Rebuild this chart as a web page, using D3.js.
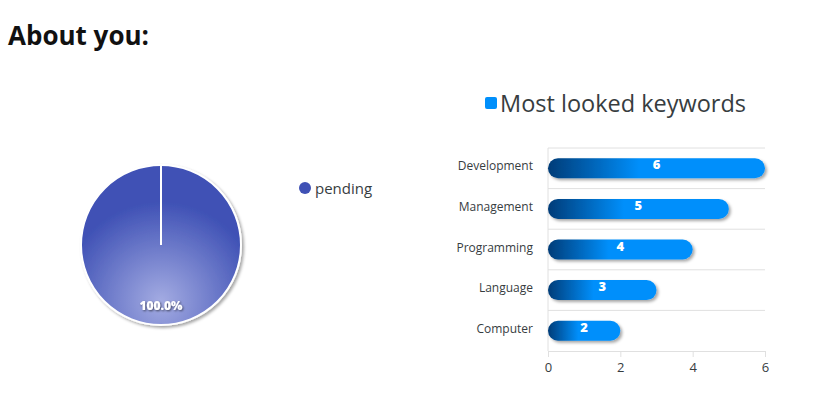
<!DOCTYPE html>
<html><head><meta charset="utf-8">
<script src="https://cdn.jsdelivr.net/npm/d3@7"></script>
<style>body{margin:0;background:#fff;} svg{display:block;}</style>
</head><body>
<svg id="c" width="836" height="402"></svg>
<script>
const pieLabels = ["pending"];
const pieValues = [1];
const categories = ["Development","Management","Programming","Language","Computer"];
const values = [6,5,4,3,2];
const xTicks = [0,2,4,6];
const seriesName = "Most looked keywords";
const titleText = "About you:";

const svg = d3.select("#c");
const font = "'Open Sans', sans-serif";
const defs = svg.append("defs");

// filters
const sh = defs.append("filter").attr("id","sh").attr("x","-20%").attr("y","-40%").attr("width","150%").attr("height","200%");
sh.append("feDropShadow").attr("dx",2).attr("dy",2).attr("stdDeviation",1.5).attr("flood-color","#000").attr("flood-opacity",0.35);
const tsh = defs.append("filter").attr("id","tsh").attr("x","-20%").attr("y","-40%").attr("width","150%").attr("height","200%");
tsh.append("feDropShadow").attr("dx",1).attr("dy",1).attr("stdDeviation",1).attr("flood-color","#000").attr("flood-opacity",0.6);

// title
svg.append("text").attr("x",8).attr("y",45).text(titleText)
  .attr("font-family","'Open Sans', sans-serif").attr("font-weight",700).attr("font-size",26).attr("fill","#111");

// ---- Pie ----
const pieColor = d3.scaleOrdinal().domain(pieLabels).range(["#3F51B5"]);
const rg = defs.append("radialGradient").attr("id","pg").attr("cx","0.5").attr("cy","0.85").attr("r","0.62").attr("fx","0.5").attr("fy","0.85");
rg.append("stop").attr("offset","0%").attr("stop-color","#a3abe2");
rg.append("stop").attr("offset","100%").attr("stop-color","#3F51B5");

const cx = 161, cy = 245, R = 80;
const pieG = svg.append("g").attr("transform",`translate(${cx},${cy})`);
const arcs = d3.pie().sort(null)(pieValues);
const arc = d3.arc().innerRadius(0).outerRadius(R);
pieG.selectAll("path.s").data(arcs).join("path").attr("class","s")
  .attr("d",arc).attr("fill","url(#pg)").attr("stroke","#fff").attr("stroke-width",2).attr("filter","url(#sh)");
pieG.selectAll("line.b").data(arcs).join("line").attr("class","b")
  .attr("x1",0).attr("y1",0)
  .attr("x2",d=>R*Math.sin(d.startAngle)).attr("y2",d=>-R*Math.cos(d.startAngle))
  .attr("stroke","#fff").attr("stroke-width",2);
pieG.selectAll("text.p").data(arcs).join("text").attr("class","p")
  .attr("x",0).attr("y",65)
  .attr("text-anchor","middle").attr("font-family",font).attr("font-weight",800).attr("font-size",12)
  .attr("fill","#fff").attr("filter","url(#tsh)")
  .text(d=>((d.endAngle-d.startAngle)/(2*Math.PI)*100).toFixed(1)+"%");

// pie legend
const lg = svg.append("g").attr("transform","translate(305,188)");
lg.selectAll("circle").data(pieLabels).join("circle").attr("cx",0).attr("cy",(d,i)=>i*22).attr("r",6).attr("fill",d=>pieColor(d));
lg.selectAll("text").data(pieLabels).join("text").attr("x",10).attr("y",(d,i)=>i*22+5.5)
  .attr("font-family",font).attr("font-size",15).attr("fill","#373d3f").text(d=>d);

// ---- Bar chart ----
const x = d3.scaleLinear().domain([0,6]).range([548,765]);
const y = d3.scaleBand().domain(categories).range([148,351]);

// legend
svg.append("rect").attr("x",485).attr("y",97).attr("width",12).attr("height",12).attr("rx",2).attr("fill","#008FFB");
svg.append("text").attr("x",500).attr("y",112).text(seriesName)
  .attr("font-family",font).attr("font-size",23.5).attr("fill","#373d3f");

// grid
svg.append("g").selectAll("line").data(categories).join("line")
  .attr("x1",548).attr("x2",765).attr("y1",d=>y(d)).attr("y2",d=>y(d))
  .attr("stroke","#e0e0e0").attr("stroke-width",1);
svg.append("line").attr("x1",548).attr("x2",548).attr("y1",148).attr("y2",351).attr("stroke","#e0e0e0");

// x axis
const xa = svg.append("g").attr("transform","translate(0,351)")
  .call(d3.axisBottom(x).tickValues(xTicks).tickFormat(d3.format("d")).tickSize(6).tickPadding(6));
xa.select(".domain").attr("stroke","#e0e0e0");
xa.selectAll(".tick line").attr("stroke","#e0e0e0");
xa.selectAll(".tick text").attr("font-family",font).attr("font-size",13).attr("fill","#373d3f");

// y labels
svg.append("g").selectAll("text").data(categories).join("text")
  .attr("x",533).attr("y",d=>y(d)+y.bandwidth()/2+2).attr("text-anchor","end")
  .attr("font-family",font).attr("font-size",12).attr("fill","#373d3f").text(d=>d);

// gradient
const bg = defs.append("linearGradient").attr("id","bg").attr("x1","0").attr("x2","1").attr("y1","0").attr("y2","0");
bg.append("stop").attr("offset","0%").attr("stop-color","#003c78");
bg.append("stop").attr("offset","42%").attr("stop-color","#008FFB");
bg.append("stop").attr("offset","100%").attr("stop-color","#008FFB");

const bh = 20;
const bars = svg.append("g").selectAll("g").data(categories.map((c,i)=>({c,v:values[i]}))).join("g");
bars.append("rect").attr("x",x(0)).attr("y",d=>y(d.c)+y.bandwidth()/2-bh/2)
  .attr("width",d=>x(d.v)-x(0)).attr("height",bh).attr("rx",10).attr("ry",10)
  .attr("fill","url(#bg)").attr("filter","url(#sh)");
bars.append("text").attr("x",d=>(x(0)+x(d.v))/2).attr("y",d=>y(d.c)+y.bandwidth()/2+1)
  .attr("text-anchor","middle").attr("font-family",font).attr("font-weight",800).attr("font-size",13)
  .attr("fill","#fff").text(d=>d.v);
</script>
</body></html>
